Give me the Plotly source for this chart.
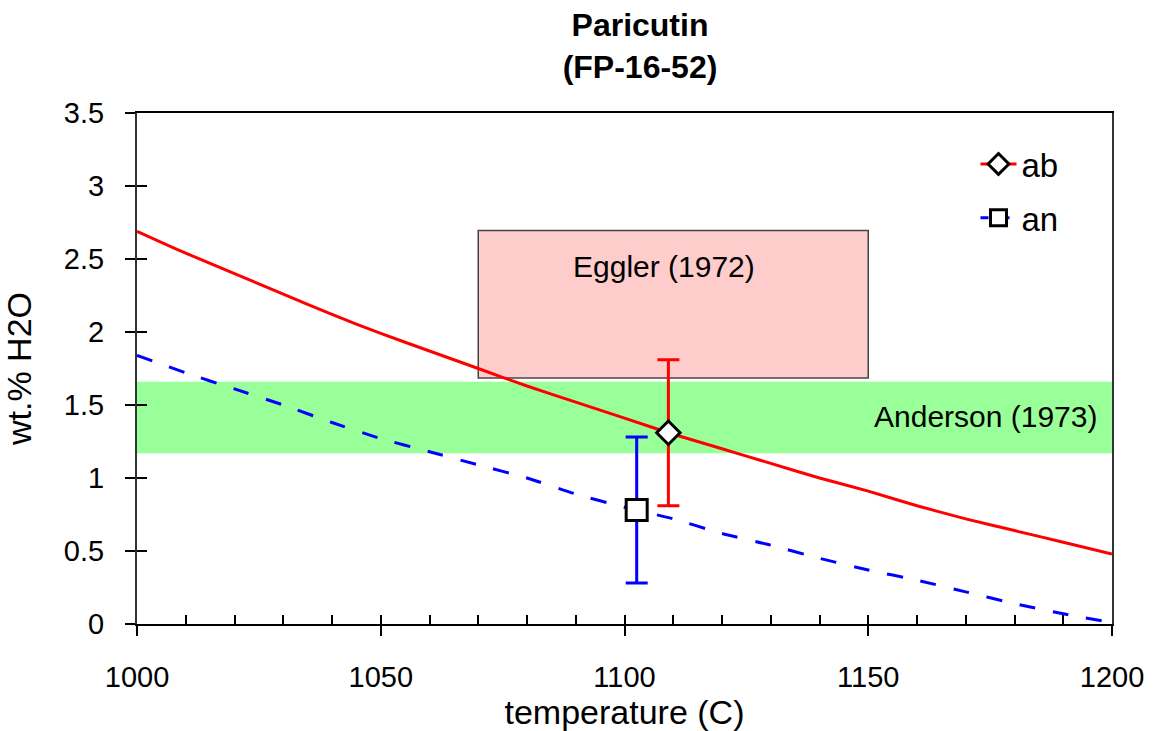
import plotly.graph_objects as go

# ---- data ----
temperature = [1000, 1010, 1020, 1030, 1040, 1050, 1060, 1070, 1080, 1090, 1100,
               1110, 1120, 1130, 1140, 1150, 1160, 1170, 1180, 1190, 1200]
ab_curve = [2.69, 2.54, 2.40, 2.26, 2.12, 1.99, 1.87, 1.75, 1.63, 1.52, 1.41,
            1.30, 1.20, 1.10, 1.00, 0.91, 0.81, 0.72, 0.64, 0.56, 0.48]
an_curve = [1.84, 1.72, 1.61, 1.50, 1.38, 1.27, 1.18, 1.09, 1.00, 0.89, 0.80,
            0.72, 0.62, 0.54, 0.45, 0.37, 0.30, 0.22, 0.14, 0.07, 0.01]

ab_point_t = [1109]
ab_point_w = [1.31]
ab_err = [0.5]
an_point_t = [1102.5]
an_point_w = [0.78]
an_err = [0.5]

eggler_t = [1070, 1150]
eggler_w = [1.685, 2.695]
anderson_t = [1000, 1200]
anderson_w = [1.17, 1.66]

x_range = [1000, 1200]
y_range = [0, 3.5]
x_ticks = [1000, 1050, 1100, 1150, 1200]
y_ticks = [0, 0.5, 1, 1.5, 2, 2.5, 3, 3.5]
y_tick_text = ["0", "0.5", "1", "1.5", "2", "2.5", "3", "3.5"]

FONT = "Liberation Sans, Arial, sans-serif"
RED = "#ff0000"
BLUE = "#0000ff"

W, H = 1156, 731

fig = go.Figure()

fig.add_trace(go.Scatter(x=temperature, y=ab_curve, mode="lines",
                         line=dict(color=RED, width=3, shape="spline", smoothing=0.6),
                         showlegend=False, hoverinfo="skip"))
fig.add_trace(go.Scatter(x=temperature, y=an_curve, mode="lines",
                         line=dict(color=BLUE, width=3, dash="16px,18px",
                                   shape="spline", smoothing=0.6),
                         showlegend=False, hoverinfo="skip"))

fig.add_trace(go.Scatter(x=ab_point_t, y=ab_point_w, mode="lines+markers", name="ab",
                         legendgroup="ab",
                         line=dict(color=RED, width=3),
                         marker=dict(symbol="diamond", size=18, color="white",
                                     line=dict(color="black", width=3)),
                         error_y=dict(type="data", array=ab_err, visible=True,
                                      color=RED, thickness=3, width=11)))
fig.add_trace(go.Scatter(x=an_point_t, y=an_point_w, mode="lines+markers", name="an",
                         legendgroup="an",
                         line=dict(color=BLUE, width=3, dash="8px,13px"),
                         marker=dict(symbol="square", size=21, color="white",
                                     line=dict(color="black", width=3)),
                         error_y=dict(type="data", array=an_err, visible=True,
                                      color=BLUE, thickness=3, width=11)))

# helper trace for the inside (minor) ticks axes
fig.add_trace(go.Scatter(x=[None], y=[None], xaxis="x2", yaxis="y2",
                         showlegend=False, hoverinfo="skip"))

fig.add_shape(type="rect", xref="x", yref="y",
              x0=anderson_t[0], x1=anderson_t[1], y0=anderson_w[0], y1=anderson_w[1],
              fillcolor="#99ff99", line=dict(width=0), layer="below")
fig.add_shape(type="rect", xref="x", yref="y",
              x0=eggler_t[0], x1=eggler_t[1], y0=eggler_w[0], y1=eggler_w[1],
              fillcolor="#ffcccc", line=dict(color="#444444", width=1.5), layer="below")

fig.add_annotation(x=1108, y=2.45, xref="x", yref="y", text="Eggler (1972)",
                   showarrow=False, font=dict(family=FONT, size=30, color="black"))
fig.add_annotation(x=1174, y=1.42, xref="x", yref="y", text="Anderson (1973)",
                   showarrow=False, font=dict(family=FONT, size=30, color="black"))

fig.update_layout(
    width=W, height=H,
    margin=dict(l=137, r=W - 137 - 975, t=113, b=H - 113 - 511, autoexpand=False),
    paper_bgcolor="white", plot_bgcolor="white",
    font=dict(family=FONT, size=30, color="black"),
    title=dict(text="<b>Paricutin<br>(FP-16-52)</b>", x=640 / W, xanchor="center",
               y=1 - 36 / H, yanchor="top", xref="container", yref="container",
               font=dict(family=FONT, size=32, color="black")),
    xaxis=dict(range=x_range, tickvals=x_ticks, ticks="outside", ticklen=10,
               tickwidth=2, tickcolor="black", showline=True, linecolor="black",
               linewidth=2, mirror=True, showgrid=False, zeroline=False,
               automargin=True,
               tickfont=dict(size=29), ticklabelstandoff=16,
               title=dict(text="temperature (C)", font=dict(size=34), standoff=6)),
    yaxis=dict(range=y_range, tickvals=y_ticks, ticktext=y_tick_text, ticks="outside",
               ticklen=10, tickwidth=2, tickcolor="black", showline=True,
               linecolor="#333333", linewidth=2, mirror=True, showgrid=False,
               zeroline=False, automargin=True,
               tickfont=dict(size=29), ticklabelstandoff=15,
               title=dict(text="wt.% H2O", font=dict(size=34), standoff=26)),
    xaxis2=dict(range=x_range, overlaying="x", anchor="y", side="bottom",
                tickmode="linear", tick0=1000, dtick=10, ticks="inside", ticklen=9,
                tickwidth=2, tickcolor="black", showticklabels=False, showline=False,
                showgrid=False, zeroline=False, automargin=False),
    yaxis2=dict(range=y_range, overlaying="y", anchor="x", side="left",
                tickvals=y_ticks, ticks="inside", ticklen=10, tickwidth=2,
                tickcolor="black", showticklabels=False, showline=False,
                showgrid=False, zeroline=False, automargin=False),
    legend=dict(x=0.86, y=0.955, xanchor="left", yanchor="top",
                bgcolor="rgba(0,0,0,0)", font=dict(family=FONT, size=33),
                traceorder="grouped", tracegroupgap=8, itemwidth=36),
    showlegend=True,
)

fig.write_html("out.html", config={"displayModeBar": False},
               post_script="document.body.style.margin='0';")
